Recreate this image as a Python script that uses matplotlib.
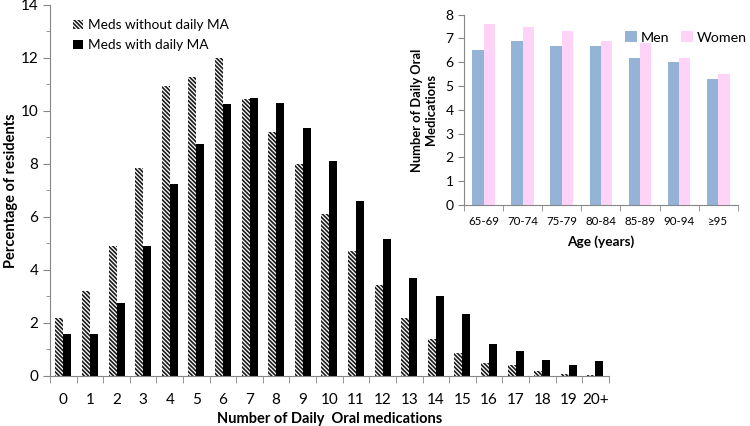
import matplotlib
matplotlib.use("Agg")
import matplotlib.pyplot as plt
import numpy as np

plt.rcParams['font.family'] = ['Lato', 'DejaVu Sans']
plt.rcParams['hatch.linewidth'] = 1.2

# main chart data
categories = ['0', '1', '2', '3', '4', '5', '6', '7', '8', '9', '10',
              '11', '12', '13', '14', '15', '16', '17', '18', '19', '20+']
without_ma = [2.2, 3.2, 4.9, 7.85, 10.95, 11.3, 12.0, 10.45, 9.2, 8.0, 6.1,
              4.7, 3.45, 2.2, 1.4, 0.85, 0.5, 0.4, 0.18, 0.08, 0.05]
with_ma = [1.6, 1.6, 2.75, 4.9, 7.25, 8.75, 10.25, 10.5, 10.3, 9.35, 8.1,
           6.6, 5.15, 3.7, 3.0, 2.35, 1.2, 0.95, 0.6, 0.4, 0.55]

# inset data
ages = ['65-69', '70-74', '75-79', '80-84', '85-89', '90-94', '≥95']
men = [6.5, 6.9, 6.7, 6.7, 6.2, 6.0, 5.3]
women = [7.6, 7.5, 7.3, 6.9, 6.8, 6.2, 5.5]

spine_col = '#868686'
fig = plt.figure(figsize=(7.5, 4.26), dpi=100)

#主图
ax = fig.add_axes([0.0667, 0.1174, 0.745, 0.871])
x = np.arange(len(categories))
w = 0.3
ax.bar(x - w/2, without_ma, w, color='white', edgecolor='#1a1a1a', linewidth=0,
       hatch='\\\\\\\\\\\\\\\\', label='Meds without daily MA')
ax.bar(x + w/2, with_ma, w, color='black', label='Meds with daily MA')
ax.set_xlim(-0.5, len(categories) - 0.5)
ax.set_ylim(0, 14)
ax.set_yticks(np.arange(0, 15, 2))
ax.set_yticks(np.arange(1, 14, 2), minor=True)
ax.set_xticks(x)
ax.set_xticklabels(categories)
ax.set_xticks(np.arange(-0.5, len(categories), 1), minor=True)
ax.tick_params(axis='x', which='major', length=0, labelsize=11, pad=12)
ax.tick_params(axis='x', which='minor', length=5, color=spine_col, direction='out')
ax.tick_params(axis='y', which='major', length=5, color=spine_col, labelsize=11)
ax.tick_params(axis='y', which='minor', length=3, color=spine_col)
for s in ['top', 'right']:
    ax.spines[s].set_visible(False)
for s in ['left', 'bottom']:
    ax.spines[s].set_color(spine_col)
ax.set_xlabel('Number of Daily  Oral medications', fontsize=10.5, fontweight='bold', labelpad=4)
ax.set_ylabel('Percentage of residents', fontsize=10.5, fontweight='bold', labelpad=2)
ax.legend(loc='upper left', bbox_to_anchor=(0.02, 0.995), frameon=False, fontsize=9.8,
          handlelength=0.7, handleheight=0.7, handletextpad=0.4, labelspacing=0.6)

#插图
ax2 = fig.add_axes([0.6187, 0.5188, 0.365, 0.4467])
x2 = np.arange(len(ages))
w2 = 0.29
ax2.bar(x2 - w2/2, men, w2, color='#95B3D7', label='Men')
ax2.bar(x2 + w2/2, women, w2, color='#FFD3F8', label='Women')
ax2.set_xlim(-0.5, len(ages) - 0.5)
ax2.set_ylim(0, 8)
ax2.set_yticks(np.arange(0, 9, 1))
ax2.set_xticks(x2)
ax2.set_xticklabels(ages)
ax2.set_xticks(np.arange(-0.5, len(ages), 1), minor=True)
ax2.tick_params(axis='x', which='major', length=0, labelsize=8.3, pad=8)
ax2.tick_params(axis='x', which='minor', length=4, color=spine_col)
ax2.tick_params(axis='y', which='major', length=4, color=spine_col, labelsize=10)
for s in ['top', 'right']:
    ax2.spines[s].set_visible(False)
for s in ['left', 'bottom']:
    ax2.spines[s].set_color(spine_col)
ax2.set_xlabel('Age (years)', fontsize=9.8, fontweight='bold', labelpad=6)
ax2.set_ylabel('Number of Daily Oral\nMedications', fontsize=9.3, fontweight='bold', labelpad=6)
ax2.legend(loc='upper right', bbox_to_anchor=(1.08, 0.98), ncol=2, frameon=False, fontsize=10.3,
           handlelength=0.8, handleheight=0.8, handletextpad=0.3, columnspacing=0.8)

plt.savefig('out.png', dpi=100)
